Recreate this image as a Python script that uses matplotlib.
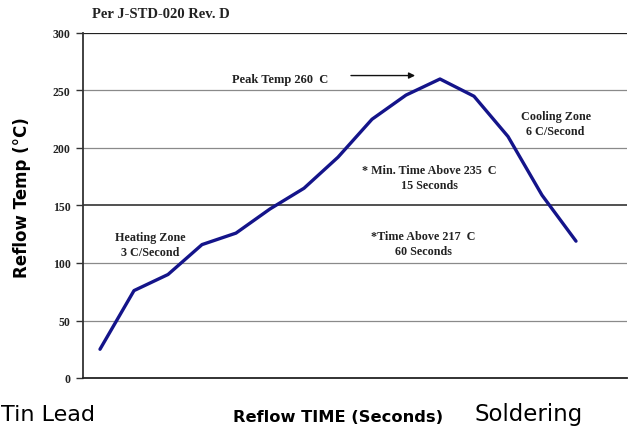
import matplotlib
matplotlib.use("Agg")
import matplotlib.pyplot as plt
import numpy as np

# reflow profile, one point per time step (no time scale shown on the chart)
step = list(range(15))
temp = [25, 76, 90, 116, 126, 147, 165, 192, 225, 246, 260, 245, 210, 159, 119]
yticks = [0, 50, 100, 150, 200, 250, 300]

serif = "Liberation Serif"
sans = "DejaVu Sans"

fig = plt.figure(figsize=(6.28, 4.31), dpi=100)
ax = fig.add_axes([83/628, 1 - 379/431, 544/628, 345/431])

# horizontal grid lines, the 150 one is darker
for t in yticks[1:]:
    c = "#222222" if t in (150, 300) else "#8a8a8a"
    ax.axhline(t, color=c, lw=1.1 if t == 150 else 0.9, zorder=1)

ax.plot(step, temp, color="#14148a", lw=2.4, solid_capstyle="round",
        solid_joinstyle="round", zorder=3)

ax.set_xlim(-0.5, 15.5)
ax.set_ylim(0, 300)
ax.set_xticks([])
ax.set_yticks(yticks)
ax.set_yticklabels([str(t) for t in yticks], fontfamily=serif,
                   fontweight="bold", fontsize=8.5, color="#222222")
ax.tick_params(axis="y", length=5, width=1, color="#333333", pad=4)
for s in ["top", "right"]:
    ax.spines[s].set_visible(False)
ax.spines["left"].set_color("#333333")
ax.spines["left"].set_linewidth(1.3)
ax.spines["bottom"].set_color("#222222")
ax.spines["bottom"].set_linewidth(1.3)

tkw = dict(fontfamily=serif, fontweight="bold", fontsize=8.7,
           color="#222222", ha="center", va="center", linespacing=1.35)
ax.text(1.47, 116, "Heating Zone\n3 C/Second", **tkw)
ax.text(13.4, 221, "Cooling Zone\n6 C/Second", **tkw)
ax.text(9.7, 174, "* Min. Time Above 235  C\n15 Seconds", **tkw)
ax.text(9.5, 117, "*Time Above 217  C\n60 Seconds", **tkw)
ax.text(3.88, 260, "Peak Temp 260  C", fontfamily=serif, fontweight="bold",
        fontsize=9, color="#222222", ha="left", va="center")
ax.annotate("", xy=(9.35, 263), xytext=(7.3, 263),
            arrowprops=dict(arrowstyle="-|>", color="#111111", lw=1,
                            mutation_scale=9))

fig.text(92/628, 1 - 15/431, "Per J-STD-020 Rev. D", fontfamily=serif,
         fontweight="bold", fontsize=10.5, ha="left", va="center",
         color="#222222")
fig.text(22/628, 1 - 198/431, "Reflow Temp (°C)", fontfamily=sans,
         fontweight="bold", fontsize=12, rotation=90, ha="center",
         va="center", color="black")
fig.text(1/628, 1 - 415/431, "Tin Lead", fontfamily=sans, fontsize=16,
         ha="left", va="center", color="black")
fig.text(338/628, 1 - 418/431, "Reflow TIME (Seconds)", fontfamily=sans,
         fontweight="bold", fontsize=11.7, ha="center", va="center",
         color="black")
fig.text(529/628, 1 - 415/431, "Soldering", fontfamily=sans, fontsize=16.5,
         ha="center", va="center", color="black")

fig.savefig("out.png", dpi=100)
